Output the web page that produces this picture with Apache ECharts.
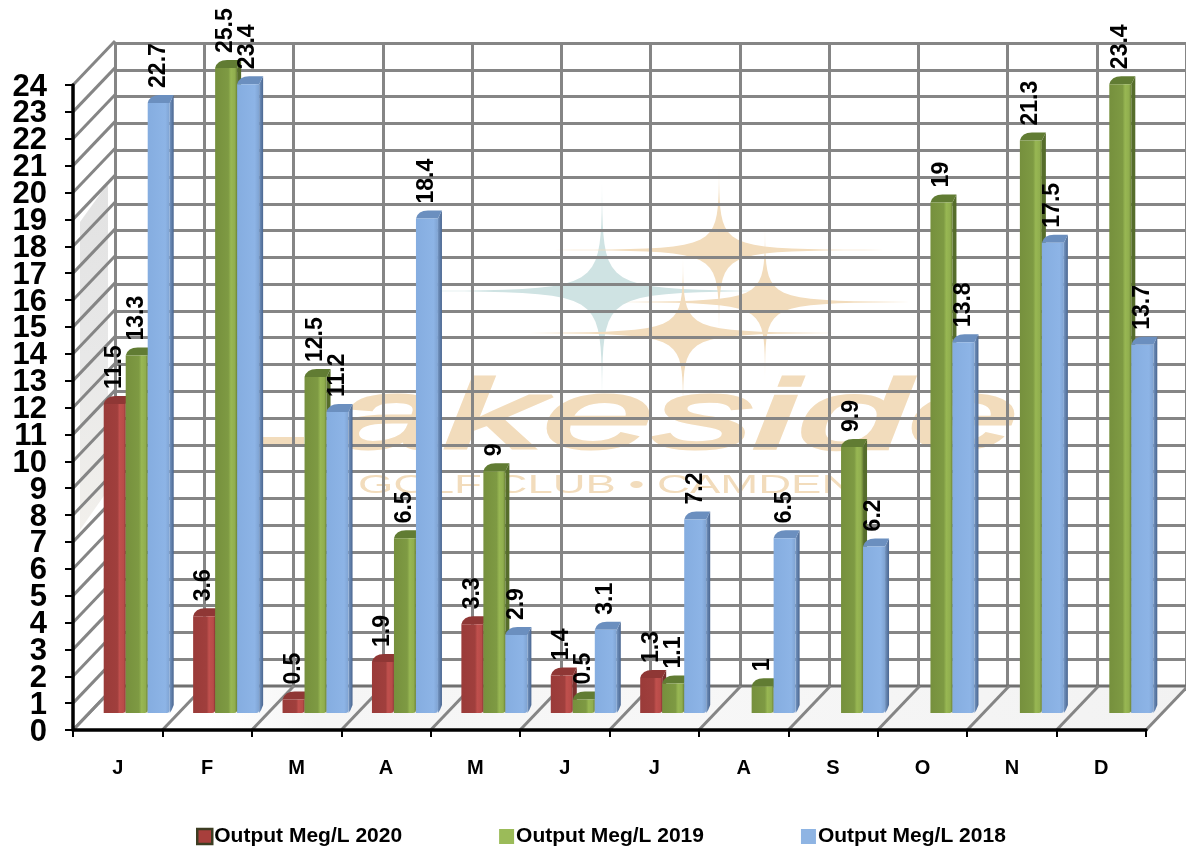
<!DOCTYPE html>
<html><head><meta charset="utf-8">
<style>html,body{margin:0;padding:0;background:#fff}#c{width:1186px;height:850px}</style>
<script src="https://cdn.jsdelivr.net/npm/echarts@6/dist/echarts.min.js"></script>
</head><body><div id="c"></div>
<script>
const categories = ['J','F','M','A','M','J','J','A','S','O','N','D'];
const output2020 = [11.5,3.6,0.5,1.9,3.3,1.4,1.3,null,null,null,null,null];
const output2019 = [13.3,25.5,12.5,6.5,9,0.5,1.1,1,9.9,19,21.3,23.4];
const output2018 = [22.7,23.4,11.2,18.4,2.9,3.1,7.2,6.5,6.2,13.8,17.5,13.7];
const seriesNames = ['Output Meg/L 2020','Output Meg/L 2019','Output Meg/L 2018'];
const yMin = 0, yMax = 24, yStep = 1;
const yLabelsEven = [0,2,4,6,8,10,12,14,16,18,20,22,24];
const yLabelsOdd = [1,3,5,7,9,11,13,15,17,19,21,23];

const FONT = '"Liberation Sans", Arial, sans-serif';
const GRID_LINE = '#858585';
const DEPTH_X = 42, DEPTH_Y = 44;
const BAR_W = 22, SIDE_X = 4, SIDE_Y = 8;

function hGrad(stops){return {type:'linear',x:0,y:0,x2:1,y2:0,colorStops:stops.map(s=>({offset:s[0],color:s[1]}))};}
const looks = [
 {front:hGrad([[0,'#9a3b39'],[0.62,'#a03f3d'],[0.72,'#c0504d'],[0.92,'#b84b48'],[1,'#8a3432']]),top:'#8f3735',side:'#7a302e',legend:'#a83f3c',border:'#3d3d22'},
 {front:hGrad([[0,'#76903d'],[0.6,'#7e9a43'],[0.72,'#98b753'],[0.9,'#90ae4e'],[1,'#6a8236']]),top:'#617c33',side:'#566d2b',legend:'#9bbb59',border:'#9bbb59'},
 {front:hGrad([[0,'#85ade0'],[0.8,'#8db4e6'],[1,'#7fa3d2']]),top:'#6b8fbf',side:hGrad([[0,'#7394c0'],[1,'#4a6690']]),legend:'#8eb4e3',border:'#8eb4e3'}
];
const seriesValues = [output2020, output2019, output2018];

function star(cx,cy,rx,ry,color){
  const pts=[],n=140,p=0.28;
  for(let i=0;i<n;i++){
    const t=i/n*2*Math.PI,c=Math.cos(t),s=Math.sin(t);
    const px=Math.sign(c)*Math.pow(Math.abs(c),2/p),py=Math.sign(s)*Math.pow(Math.abs(s),2/p);
    pts.push([cx+rx*px,cy+ry*py]);
  }
  return {type:'polygon',z:-5,silent:true,shape:{points:pts},style:{fill:color}};
}
const ORANGE='#f2dcbc', TEAL='#cfe3e3';
const watermark = [
  star(602,291,290,140,TEAL),
  star(719,250,265,105,ORANGE),
  star(765,302,265,95,ORANGE),
  star(683,333,280,95,ORANGE),
  {type:'text',z:-5,silent:true,x:333,y:372,scaleX:2.03,style:{text:'akeside',fontFamily:FONT,fontStyle:'italic',fontSize:98,fill:ORANGE,stroke:ORANGE,lineWidth:3}},
  {type:'rect',z:-5,silent:true,shape:{x:262,y:437,width:42,height:8},style:{fill:ORANGE}},
  {type:'text',z:-5,silent:true,x:358,y:473,scaleX:1.75,style:{text:'GOLF CLUB • CAMDEN',fontFamily:FONT,fontSize:26,fill:ORANGE}},
  {type:'polygon',z:-4,silent:true,shape:{points:[[80,222],[108,183],[108,490],[80,530]]},style:{fill:{type:'linear',x:0,y:0,x2:0,y2:1,colorStops:[{offset:0,color:'#e2e2e2'},{offset:0.5,color:'#e8e8e8'},{offset:1,color:'#f2f0ec'}]}}}
];

// Decorative structure, all placed through grid 0 scales
function frontLeft(api){return api.coord([0,0])[0]-api.size([1,0])[0]/2;}
const floorSeries = {type:'custom',xAxisIndex:0,yAxisIndex:0,silent:true,z:1,data:[[0,0]],
  renderItem(p,api){
    const band=api.size([1,0])[0],x0=frontLeft(api),y0=api.coord([0,0])[1],x1=x0+band*categories.length;
    return {type:'group',children:[
      {type:'polygon',shape:{points:[[x0,y0],[x1,y0],[x1+DEPTH_X-2,y0-DEPTH_Y],[x0+DEPTH_X,y0-DEPTH_Y]]},
       style:{fill:hGrad([[0,'#ffffff'],[0.12,'#ffffff'],[0.22,'#f5f5f5'],[0.55,'#f7f7f7'],[1,'#f2f2f2']])}},
      {type:'line',shape:{x1:x0+DEPTH_X,y1:y0-DEPTH_Y,x2:x1+DEPTH_X,y2:y0-DEPTH_Y},style:{stroke:'#707070',lineWidth:3}}
    ]};
  }};
const floorLines = {type:'custom',xAxisIndex:0,yAxisIndex:0,silent:true,z:1,
  data:categories.concat(['']).map((c,i)=>[0,0,i]),
  renderItem(p,api){
    const band=api.size([1,0])[0],x=frontLeft(api)+band*api.value(2),y=api.coord([0,0])[1];
    return {type:'line',shape:{x1:x,y1:y,x2:x+DEPTH_X,y2:y-DEPTH_Y},style:{stroke:GRID_LINE,lineWidth:3}};
  }};
const yTicks=[];for(let v=yMin;v<=yMax;v+=yStep)yTicks.push(v);
const wallLines = {type:'custom',xAxisIndex:0,yAxisIndex:0,silent:true,z:1,
  data:yTicks.map(v=>[0,v]),
  renderItem(p,api){
    const x=frontLeft(api),y=api.coord([0,api.value(1)])[1];
    return {type:'line',shape:{x1:x,y1:y,x2:x+DEPTH_X,y2:y-DEPTH_Y},style:{stroke:GRID_LINE,lineWidth:3}};
  }};

function capSeries(si){
  return {type:'custom',xAxisIndex:2,yAxisIndex:2,silent:true,z:3+si*2,
    data:seriesValues[si].map((v,i)=>v==null?null:[i,v]).filter(Boolean),
    renderItem(p,api){
      const v=Math.min(api.value(1),yMax);
      const c=api.coord([api.value(0),v]),b=api.coord([api.value(0),0]);
      const xl=c[0]+(si-1.5)*BAR_W,xr=xl+BAR_W,yt=c[1],yb=b[1];
      return {type:'group',children:[
        {type:'polygon',shape:{points:[[xr,yt],[xr+SIDE_X,yt-SIDE_Y],[xr+SIDE_X,yb-SIDE_Y],[xr+SIDE_X-2,yb-3],[xr,yb]]},style:{fill:looks[si].side}},
        {type:'path',shape:{pathData:`M ${xl} ${yt} Q ${xl+2} ${yt-SIDE_Y} ${xl+12} ${yt-SIDE_Y} L ${xr+SIDE_X} ${yt-SIDE_Y} L ${xr} ${yt} Z`,x:xl,y:yt-SIDE_Y,width:BAR_W+SIDE_X,height:SIDE_Y},style:{fill:looks[si].top}}
      ]};
    }};
}
function barSeries(si){
  return {type:'bar',name:seriesNames[si],xAxisIndex:2,yAxisIndex:2,z:4+si*2,data:seriesValues[si],
    barWidth:BAR_W,barGap:0,clip:true,
    itemStyle:{color:looks[si].front,borderRadius:[0,0,3,0]},
    label:{show:true,position:'top',rotate:90,align:'left',verticalAlign:'middle',distance:15,
      color:'#000',fontFamily:FONT,fontWeight:'bold',fontSize:23}};
}
const hideAxis={axisLine:{show:false},axisTick:{show:false},axisLabel:{show:false},splitLine:{show:false}};
const yLabelStyle={show:true,color:'#000',fontFamily:FONT,fontWeight:'bold',fontSize:31,margin:26,showMinLabel:true,showMaxLabel:true};
const option={
  animation:false,backgroundColor:'#fff',
  textStyle:{fontFamily:FONT},
  graphic:{elements:watermark},
  grid:[
    {left:73,top:85,width:1073,height:645},
    {left:115,top:43,width:1073,height:643},
    {left:92,top:713-645,width:1073,height:645},
    {left:73,top:87,width:1073,height:645}
  ],
  legend:{left:191,top:821,itemWidth:15,itemHeight:15,itemGap:97,
    textStyle:{color:'#000',fontFamily:FONT,fontWeight:'bold',fontSize:21,padding:[0,0,0,-3]},
    data:seriesNames.map((n,i)=>({name:n,icon:'rect',itemStyle:{color:looks[i].legend,borderColor:looks[i].border,borderWidth:i===0?2.5:0}}))},
  xAxis:[
    {type:'category',gridIndex:0,data:categories,z:5,
     axisLine:{lineStyle:{color:'#000',width:3.5}},
     axisTick:{show:true,alignWithLabel:false,length:7,lineStyle:{color:'#000',width:2}},
     axisLabel:{color:'#000',fontFamily:FONT,fontWeight:'bold',fontSize:20,margin:28,interval:0}},
    {type:'category',gridIndex:1,data:categories,boundaryGap:true,...hideAxis,
     splitLine:{show:true,interval:0,lineStyle:{color:GRID_LINE,width:3}}},
    {type:'category',gridIndex:2,data:categories,...hideAxis},
    {type:'category',gridIndex:3,data:categories,...hideAxis}
  ],
  yAxis:[
    {type:'value',gridIndex:0,min:yMin,max:yMax,interval:yStep,z:5,position:'left',
     axisLine:{show:true,lineStyle:{color:'#000',width:3.5}},
     axisTick:{show:true,length:8,lineStyle:{color:'#000',width:2}},
     axisLabel:{show:false},
     splitLine:{show:false}},
    {type:'value',gridIndex:1,min:yMin,max:yMax,interval:yStep,...hideAxis,
     splitLine:{show:true,lineStyle:{color:GRID_LINE,width:3}}},
    {type:'value',gridIndex:2,min:yMin,max:yMax,interval:yStep,...hideAxis},
    {type:'value',gridIndex:3,min:yMin,max:yMax,interval:yStep,z:5,position:'left',...hideAxis,
     axisLabel:{...yLabelStyle,customValues:yLabelsEven}},
    {type:'value',gridIndex:3,min:yMin,max:yMax,interval:yStep,z:5,position:'left',...hideAxis,
     axisLabel:{...yLabelStyle,customValues:yLabelsOdd}}
  ],
  series:[floorSeries,floorLines,wallLines,
    capSeries(0),barSeries(0),capSeries(1),barSeries(1),capSeries(2),barSeries(2)]
};
const chart=echarts.init(document.getElementById('c'));
chart.setOption(option);
</script></body></html>
